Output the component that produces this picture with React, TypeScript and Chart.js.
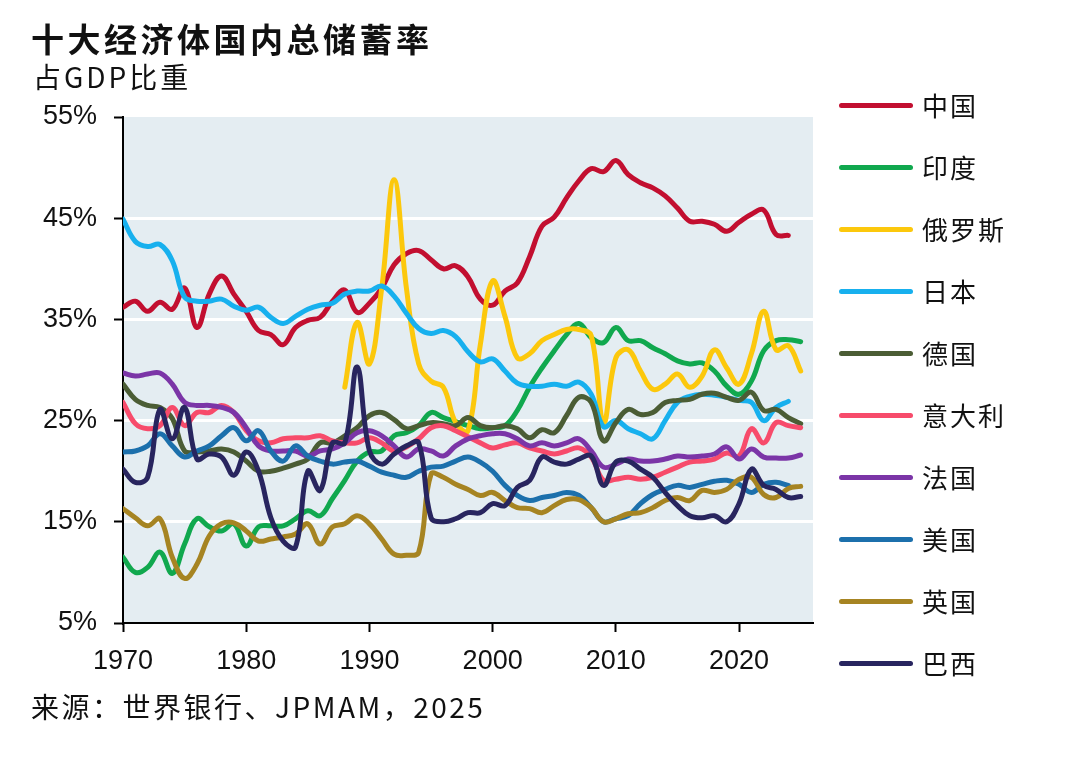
import { useEffect, useRef } from "react"
import { Chart, registerables } from "chart.js"

Chart.register(...registerables)

const years = [
  1970, 1971, 1972, 1973, 1974, 1975, 1976, 1977, 1978, 1979,
  1980, 1981, 1982, 1983, 1984, 1985, 1986, 1987, 1988, 1989,
  1990, 1991, 1992, 1993, 1994, 1995, 1996, 1997, 1998, 1999,
  2000, 2001, 2002, 2003, 2004, 2005, 2006, 2007, 2008, 2009,
  2010, 2011, 2012, 2013, 2014, 2015, 2016, 2017, 2018, 2019,
  2020, 2021, 2022, 2023, 2024, 2025,
]

const china = [
  36.2, 36.8, 35.8, 36.7, 36.0, 38.1, 34.2, 37.5, 39.3, 37.5,
  35.8, 33.9, 33.5, 32.5, 34.2, 34.9, 35.2, 36.8, 37.9, 35.7,
  36.6, 38.1, 40.4, 41.5, 41.8, 40.9, 40.0, 40.3, 39.2, 37.0,
  36.4, 37.8, 38.6, 41.2, 44.2, 45.1, 47.0, 48.7, 49.9, 49.6,
  50.7, 49.3, 48.5, 48.0, 47.2, 46.0, 44.7, 44.7, 44.4, 43.7,
  44.6, 45.4, 45.8, 43.4, 43.3, null,
]

const india = [
  11.5, 10.0, 10.5, 12.0, 9.9, 12.8, 15.3, 14.5, 14.1, 14.8,
  12.6, 14.5, 14.6, 14.6, 15.3, 16.1, 15.6, 17.3, 19.1, 21.0,
  21.9, 22.0, 23.5, 23.8, 24.5, 25.8, 25.3, 24.9, 24.5, 24.2,
  24.3, 24.5, 26.0, 28.3, 30.2, 31.9, 33.5, 34.6, 33.2, 32.7,
  34.2, 32.9, 32.9, 32.2, 31.6, 30.9, 30.6, 30.7, 29.9, 28.4,
  27.6, 28.9, 31.9, 32.9, 33.0, 32.8,
]

const russia = [
  null, null, null, null, null, null, null, null, null, null,
  null, null, null, null, null, null, null, null, 28.3, 34.7,
  30.6, 38.1, 48.8, 38.1, 30.6, 28.9, 28.3, 24.8, 24.0, 32.5,
  38.8, 35.3, 31.2, 31.6, 32.9, 33.5, 34.0, 34.0, 33.4, 24.8,
  31.2, 32.0, 29.9, 28.1, 28.6, 29.6, 28.3, 29.4, 32.0, 30.2,
  28.6, 31.6, 35.8, 32.0, 32.4, 29.9,
]

const japan = [
  44.9, 42.7, 42.2, 42.4, 40.8, 37.2, 36.8, 36.8, 37.0, 36.3,
  35.9, 36.2, 35.2, 34.6, 35.3, 36.0, 36.4, 36.6, 37.5, 37.8,
  37.8, 38.3, 37.3, 35.6, 34.1, 33.6, 33.9, 33.3, 31.8, 30.8,
  31.1, 29.9, 28.7, 28.4, 28.4, 28.6, 28.4, 28.8, 27.6, 24.4,
  25.0, 24.2, 23.7, 23.2, 25.0, 26.8, 27.4, 27.6, 27.5, 27.3,
  27.0, 26.8, 25.0, 26.3, 26.9, null,
]

const germany = [
  28.6, 27.1, 26.5, 26.3, 25.2, 22.0, 21.9, 22.0, 22.2, 21.9,
  21.0, 20.0, 20.0, 20.3, 20.7, 21.2, 22.8, 22.8, 23.5, 24.3,
  25.5, 25.8, 25.1, 24.2, 24.5, 24.8, 24.7, 24.5, 25.3, 24.5,
  24.3, 24.5, 24.2, 23.3, 24.1, 23.8, 25.5, 27.3, 26.8, 23.0,
  24.8, 26.1, 25.6, 25.8, 26.8, 27.0, 27.1, 27.6, 27.7, 27.3,
  27.0, 27.8, 26.0, 26.1, 25.3, 24.7,
]

const italy = [
  26.8, 24.7, 24.2, 24.5, 26.3, 24.5, 25.8, 25.8, 26.5, 25.8,
  24.0, 23.0, 22.8, 23.2, 23.3, 23.3, 23.5, 23.0, 22.8, 22.8,
  23.3, 22.8, 22.0, 22.4, 23.2, 24.3, 24.5, 24.0, 23.4, 22.8,
  22.3, 22.6, 22.8, 22.3, 22.0, 21.7, 22.0, 22.3, 21.4, 19.1,
  19.2, 19.4, 19.2, 19.4, 19.9, 20.4, 20.9, 21.0, 21.2, 21.8,
  21.5, 24.2, 22.8, 24.8, 24.5, 24.3,
]

const france = [
  29.7, 29.4, 29.6, 29.7, 28.6, 26.8, 26.5, 26.5, 26.3, 25.8,
  24.3, 22.5, 22.0, 22.0, 22.0, 21.5, 22.0, 22.2, 22.8, 23.8,
  24.0, 23.5, 22.5, 21.4, 22.2, 22.0, 21.5, 22.5, 23.2, 23.5,
  23.7, 23.7, 23.2, 22.5, 22.8, 22.5, 22.8, 23.2, 22.0, 20.4,
  20.7, 21.2, 21.0, 21.0, 21.2, 21.5, 21.4, 21.5, 21.7, 22.4,
  21.2, 22.2, 21.4, 21.3, 21.3, 21.6,
]

const usa = [
  21.9, 22.0, 22.5, 23.7, 22.5, 21.4, 22.0, 22.5, 23.5, 24.3,
  23.0, 24.0, 22.0, 21.0, 22.5, 21.5, 21.0, 20.7, 20.9, 21.0,
  20.5, 19.9, 19.6, 19.4, 20.0, 20.4, 20.5, 21.0, 21.4, 20.9,
  20.0, 18.6, 17.6, 17.1, 17.4, 17.6, 17.9, 17.6, 16.4, 15.0,
  15.3, 15.6, 16.8, 17.7, 18.2, 18.6, 18.4, 18.7, 19.0, 19.1,
  18.7, 17.9, 18.7, 18.9, 18.6, null,
]

const uk = [
  16.3, 15.4, 14.6, 15.3, 11.5, 9.4, 10.8, 13.6, 14.8, 14.9,
  14.1, 13.1, 13.3, 13.5, 13.8, 14.8, 12.8, 14.5, 14.8, 15.6,
  14.8, 13.3, 11.8, 11.7, 12.0, 19.7, 19.4, 18.7, 18.2, 17.6,
  17.9, 17.1, 16.4, 16.3, 15.9, 16.6, 17.2, 17.2, 16.4, 15.0,
  15.3, 15.8, 15.9, 16.4, 17.1, 17.4, 17.1, 18.1, 17.9, 18.2,
  19.2, 19.4, 17.7, 17.4, 18.3, 18.5,
]

const brazil = [
  20.2, 18.9, 19.4, 26.1, 23.2, 26.3, 21.2, 21.7, 21.4, 19.6,
  21.9, 20.0, 15.4, 13.1, 12.5, 20.0, 18.1, 22.8, 22.8, 30.3,
  22.0, 20.7, 21.7, 22.5, 22.8, 15.4, 15.0, 15.3, 15.9, 15.9,
  16.8, 16.6, 18.4, 19.1, 21.4, 20.9, 20.7, 21.2, 21.5, 18.6,
  20.9, 21.0, 20.2, 19.4, 17.9, 16.6, 15.6, 15.4, 15.6, 15.0,
  16.8, 20.2, 18.6, 18.2, 17.4, 17.5,
]

const xTicks = [1970, 1980, 1990, 2000, 2010, 2020]
const yTicks = [5, 15, 25, 35, 45, 55]

const series = [
  { name: "中国", color: "#c20f30", values: china },
  { name: "印度", color: "#10a84e", values: india },
  { name: "俄罗斯", color: "#fcc80c", values: russia },
  { name: "日本", color: "#17b0ee", values: japan },
  { name: "德国", color: "#4b5d35", values: germany },
  { name: "意大利", color: "#f74b6b", values: italy },
  { name: "法国", color: "#7b35a7", values: france },
  { name: "美国", color: "#1c70ac", values: usa },
  { name: "英国", color: "#a68422", values: uk },
  { name: "巴西", color: "#28255f", values: brazil },
]

const tickFont = { family: "'Liberation Sans', Arial, sans-serif", size: 27 }
const cjk = "'Noto Sans CJK SC', 'Noto Sans', sans-serif"

const plotBackground = {
  id: "plotBackground",
  beforeDraw(chart: Chart) {
    const { ctx, chartArea } = chart
    ctx.save()
    ctx.fillStyle = "#e4edf2"
    ctx.fillRect(chartArea.left, chartArea.top, chartArea.width, chartArea.height)
    ctx.restore()
  },
}

function SavingsChart() {
  const chartRef = useRef<HTMLCanvasElement>(null)
  const chartInstance = useRef<Chart | null>(null)

  useEffect(() => {
    if (!chartRef.current) return
    if (chartInstance.current) chartInstance.current.destroy()
    const ctx = chartRef.current.getContext("2d")
    if (!ctx) return

    chartInstance.current = new Chart(ctx, {
      type: "line",
      data: {
        datasets: series.map((s, i) => ({
          label: s.name,
          data: years.map((yr, j) => ({ x: yr, y: s.values[j] })),
          borderColor: s.color,
          backgroundColor: s.color,
          borderWidth: 5,
          pointRadius: 0,
          tension: 0.4,
          borderCapStyle: "round",
          borderJoinStyle: "round",
          order: series.length - i,
        })),
      },
      options: {
        animation: false,
        responsive: true,
        maintainAspectRatio: false,
        layout: {
          padding: { left: 0, right: 267, top: 117, bottom: 81 },
        },
        scales: {
          x: {
            type: "linear",
            min: 1970,
            max: 2026,
            afterBuildTicks: (s) => {
              s.ticks = xTicks.map((v) => ({ value: v }))
            },
            afterFit: (s) => {
              s.height = 60
            },
            grid: {
              drawOnChartArea: false,
              tickLength: 9,
              tickWidth: 2,
              tickColor: "#000",
            },
            border: { color: "#000", width: 2 },
            ticks: {
              font: tickFont,
              color: "#111",
              padding: 13,
              maxRotation: 0,
              autoSkip: false,
              callback: (v) => String(v),
            },
          },
          y: {
            min: 5,
            max: 55,
            afterBuildTicks: (s) => {
              s.ticks = yTicks.map((v) => ({ value: v }))
            },
            afterFit: (s) => {
              s.width = 123
            },
            grid: {
              color: (c) =>
                c.tick && (c.tick.value === 5 || c.tick.value === 55)
                  ? "rgba(0,0,0,0)"
                  : "#ffffff",
              lineWidth: 3,
              tickLength: 9,
              tickWidth: 2,
              tickColor: "#000",
            },
            border: { color: "#000", width: 2 },
            ticks: {
              font: tickFont,
              color: "#111",
              padding: 17,
              callback: (v) => v + "%",
            },
          },
        },
        plugins: {
          legend: { display: false },
          tooltip: { enabled: false },
        },
      },
      plugins: [plotBackground],
    })

    return () => {
      if (chartInstance.current) {
        chartInstance.current.destroy()
        chartInstance.current = null
      }
    }
  }, [])

  return (
    <div style={{ position: "absolute", left: 0, top: 0, width: 1080, height: 764 }}>
      <canvas ref={chartRef} />
    </div>
  )
}

export default function App() {
  return (
    <div
      style={{
        position: "absolute",
        left: 0,
        top: 0,
        width: 1080,
        height: 764,
        background: "#fff",
        overflow: "hidden",
        fontFamily: cjk,
        color: "#111",
      }}
    >
      <SavingsChart />
      <div
        style={{
          position: "absolute",
          left: 31,
          top: 20,
          fontSize: 33,
          fontWeight: 700,
          letterSpacing: 3.5,
          lineHeight: "36px",
          whiteSpace: "nowrap",
        }}
      >
        十大经济体国内总储蓄率
      </div>
      <div
        style={{
          position: "absolute",
          left: 33,
          top: 60,
          fontSize: 28,
          letterSpacing: 3,
          lineHeight: "32px",
          whiteSpace: "nowrap",
        }}
      >
        占GDP比重
      </div>
      <div
        style={{
          position: "absolute",
          left: 31,
          top: 690,
          fontSize: 28,
          letterSpacing: 2.5,
          lineHeight: "32px",
          whiteSpace: "nowrap",
        }}
      >
        来源：世界银行、JPMAM，2025
      </div>
      {series.map((s, i) => (
        <div
          key={s.name}
          style={{
            position: "absolute",
            left: 839,
            top: 105 + i * 62 - 16,
            height: 32,
            display: "flex",
            alignItems: "center",
            whiteSpace: "nowrap",
          }}
        >
          <span
            style={{
              display: "inline-block",
              width: 74,
              height: 5,
              borderRadius: 3,
              background: s.color,
            }}
          />
          <span style={{ marginLeft: 9, fontSize: 26, letterSpacing: 2, lineHeight: "32px" }}>
            {s.name}
          </span>
        </div>
      ))}
    </div>
  )
}
